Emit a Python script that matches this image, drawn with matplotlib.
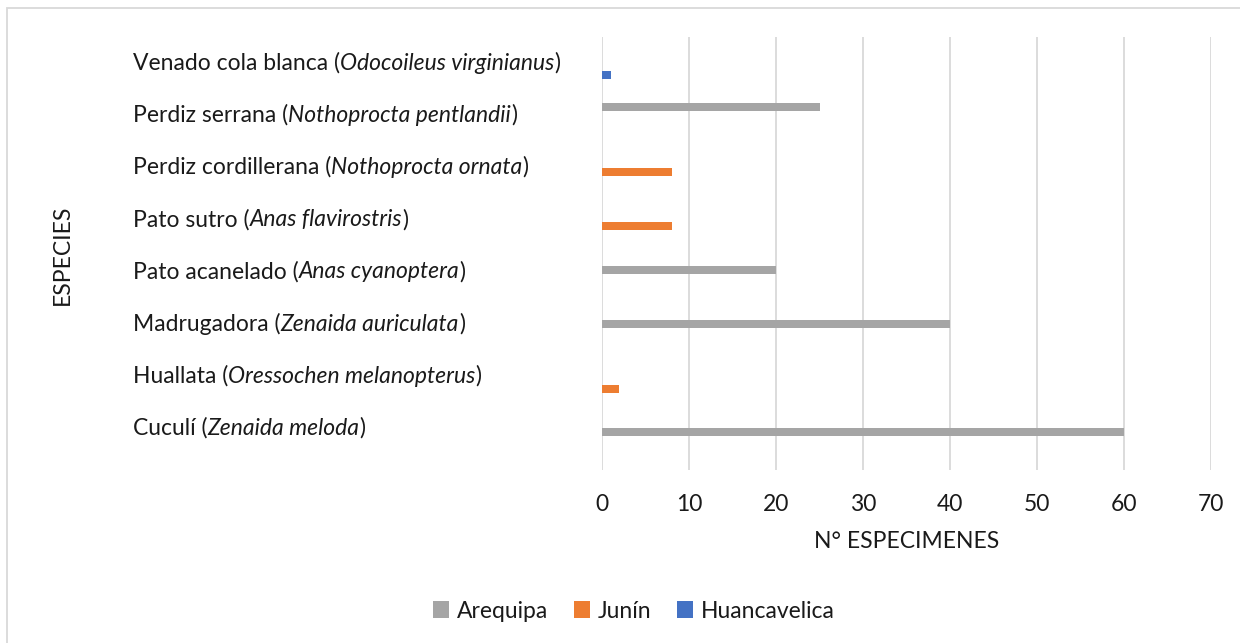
import numpy as np
import matplotlib
matplotlib.use("Agg")
import matplotlib.pyplot as plt
from matplotlib.patches import Rectangle

# species (bottom to top) : common name + scientific name
nombres = ["Cuculí", "Huallata", "Madrugadora", "Pato acanelado",
           "Pato sutro", "Perdiz cordillerana", "Perdiz serrana",
           "Venado cola blanca"]
cientificos = ["Zenaida meloda", "Oressochen melanopterus", "Zenaida auriculata",
               "Anas cyanoptera", "Anas flavirostris", "Nothoprocta ornata",
               "Nothoprocta pentlandii", "Odocoileus virginianus"]

series = ["Arequipa", "Junín", "Huancavelica"]
arequipa = [60, 0, 40, 20, 0, 0, 25, 0]
junin = [0, 2, 0, 0, 8, 8, 0, 0]
huancavelica = [0, 0, 0, 0, 0, 0, 0, 1]
colores = ["#A5A5A5", "#ED7D31", "#4472C4"]

plt.rcParams["font.family"] = ["Lato", "DejaVu Sans"]
txt = "#1a1a1a"
fs = 16.5

fig = plt.figure(figsize=(12.4, 6.43), dpi=100)
ax = fig.add_axes([602 / 1240, 1 - 470 / 643, (1211 - 602) / 1240, 433 / 643])

y = np.arange(len(nombres))
offs = [0.2, 0.0, -0.2]
for vals, off, col, lab in zip([arequipa, junin, huancavelica], offs, colores, series):
    ax.barh(y + off, vals, height=0.15, color=col, label=lab)

ax.set_xlim(0, 70)
ax.set_ylim(-0.5, len(nombres) - 0.5)
ax.set_xticks(range(0, 71, 10))
ax.set_yticks([])
ax.grid(axis="x", color="#D9D9D9", linewidth=1.3)
ax.set_axisbelow(True)
for s in ax.spines.values():
    s.set_visible(False)
ax.tick_params(axis="x", length=0, labelsize=fs, labelcolor=txt, pad=17)
ax.set_xlabel("N° ESPECIMENES", fontsize=fs, color=txt, labelpad=12)

# category labels, common name + italic scientific name
label_y = np.linspace(1 - 428 / 643, 1 - 63 / 643, len(nombres))
for yy, nom, sci in zip(label_y, nombres, cientificos):
    t1 = fig.text(133 / 1240, yy, nom + " (", fontsize=fs, color=txt, va="center")
    t2 = ax.annotate(sci, xy=(1, 0), xycoords=t1, va="bottom", ha="left",
                     fontsize=fs, color=txt, style="italic", annotation_clip=False)
    ax.annotate(")", xy=(1, 0), xycoords=t2, va="bottom", ha="left",
                fontsize=fs, color=txt, annotation_clip=False)

fig.text(62 / 1240, 1 - 255 / 643, "ESPECIES", rotation=90, fontsize=fs,
         color=txt, ha="center", va="center")

fig.legend(loc="center", bbox_to_anchor=(634 / 1240, 1 - 611 / 643), ncol=3,
           frameon=False, fontsize=fs, handlelength=0.7, handleheight=0.7,
           handletextpad=0.35, columnspacing=1.1, labelcolor=txt)

fig.patches.append(Rectangle((7 / 1240, -0.01), 1.0, 1 - 8 / 643 + 0.01,
                             transform=fig.transFigure, fill=False,
                             edgecolor="#D9D9D9", linewidth=1.3))

fig.savefig("out.png", dpi=100)
